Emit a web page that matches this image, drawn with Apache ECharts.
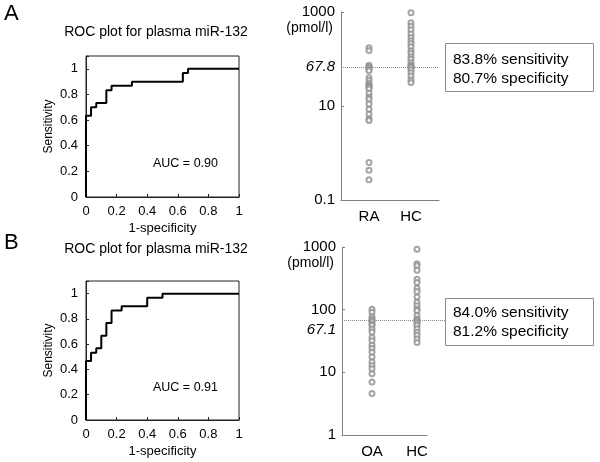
<!DOCTYPE html>
<html><head><meta charset="utf-8">
<script src="https://cdn.jsdelivr.net/npm/echarts@6/dist/echarts.min.js"></script>
<style>html,body{margin:0;padding:0;background:#fff}#c{width:600px;height:462px}</style>
</head><body><div id="c"></div>
<script>
// ROC curve A (RA vs HC)
const rocA_fpr = [0, 0, 0.033, 0.033, 0.067, 0.067, 0.133, 0.133, 0.167, 0.167, 0.3, 0.3, 0.633, 0.633, 0.667, 0.667, 1];
const rocA_tpr = [0, 0.633, 0.633, 0.7, 0.7, 0.733, 0.733, 0.833, 0.833, 0.867, 0.867, 0.9, 0.9, 0.967, 0.967, 1, 1];
// ROC curve B (OA vs HC)
const rocB_fpr = [0, 0, 0.033, 0.033, 0.067, 0.067, 0.1, 0.1, 0.133, 0.133, 0.167, 0.167, 0.233, 0.233, 0.4, 0.4, 0.5, 0.5, 1];
const rocB_tpr = [0, 0.467, 0.467, 0.533, 0.533, 0.567, 0.567, 0.667, 0.667, 0.767, 0.767, 0.867, 0.867, 0.9, 0.9, 0.967, 0.967, 1, 1];
const aucA = '0.90';
const aucB = '0.91';

// Dot plots (pmol/l)
const catsA = ['RA', 'HC'];
const catsB = ['OA', 'HC'];
const valsRA = [174, 151, 74, 68, 65, 60, 56, 40, 35, 30, 28, 26, 25, 23, 18.6, 15.3, 13.9, 11, 8.5, 6.7, 5.3, 4.9, 0.63, 0.43, 0.27];
const valsHCa = [966, 590, 500, 420, 340, 285, 245, 215, 182, 150, 133, 112, 99, 83, 74, 70, 68, 66, 59, 51, 43.5, 35.6, 31.8];
const valsOA = [102, 91, 77, 71, 67, 65, 59, 56, 49, 44, 36, 32, 27, 24, 21, 17.5, 14.6, 12.9, 11.4, 9.5, 7.0, 4.6];
const valsHCb = [920, 540, 500, 425, 306, 272, 220, 195, 160, 131, 116, 102, 96, 81, 71, 67, 65, 60, 56, 49.6, 43.8, 39, 34, 30];
const cutA = 67.8;
const cutB = 67.1;
const statsA = ['83.8% sensitivity', '80.7% specificity'];
const statsB = ['84.0% sensitivity', '81.2% specificity'];
const ticksA = [0.1, 10, 1000];
const ticksB = [1, 10, 100, 1000];

// layout (not data)
const posA = [28, 70];
const posB = [30, 75];
const FONT = 'Liberation Sans, Arial, sans-serif';

function zip(a, b) { return a.map((v, i) => [v, b[i]]); }
function fmtNum(v) { return v >= 1 ? String(Math.round(v)) : String(+(+v).toPrecision(3)); }

function rocX(grid) {
  return {
    gridIndex: grid, type: 'value', min: 0, max: 1, interval: 0.2,
    axisLine: { show: true, lineStyle: { color: '#222', width: 1 } },
    axisTick: { show: true, inside: true, length: 3, lineStyle: { color: '#222' } },
    axisLabel: { margin: 8, fontSize: 13, color: '#000', fontFamily: FONT },
    splitLine: { show: false },
    name: '1-specificity', nameLocation: 'middle', nameGap: 25,
    nameTextStyle: { fontSize: 13, color: '#000', fontFamily: FONT }
  };
}
function rocY(grid) {
  return {
    gridIndex: grid, type: 'value', min: 0, max: 1.1, interval: 0.2,
    axisLine: { show: true, lineStyle: { color: '#222', width: 1 } },
    axisTick: { show: true, inside: true, length: 3, lineStyle: { color: '#222' } },
    axisLabel: { margin: 8, fontSize: 13, color: '#000', fontFamily: FONT,
      formatter: v => (v > 1.01 ? '' : String(+v.toFixed(1))) },
    splitLine: { show: false },
    name: 'Sensitivity', nameLocation: 'middle', nameGap: 31,
    nameTextStyle: { fontSize: 12, color: '#000', fontFamily: FONT }
  };
}
function dotX(grid, max, interval, pos, cats) {
  return {
    gridIndex: grid, type: 'value', min: 0, max: max, interval: interval,
    axisLine: { show: true, onZero: false, lineStyle: { color: '#808080', width: 1 } },
    axisTick: { show: false },
    axisLabel: { margin: 9, fontSize: 15, color: '#000', fontFamily: FONT,
      formatter: v => { const i = pos.indexOf(Math.round(v)); return i >= 0 && Math.abs(v - pos[i]) < 1e-6 ? cats[i] : ''; } },
    splitLine: { show: false }
  };
}
function dotY(grid, min, ticks) {
  return {
    gridIndex: grid, type: 'log', logBase: 10, min: min, max: 1000,
    axisLine: { show: true, lineStyle: { color: '#808080', width: 1 } },
    axisTick: { show: true, inside: true, length: 3, customValues: ticks, lineStyle: { color: '#808080' } },
    axisLabel: { margin: 6, fontSize: 15, color: '#000', fontFamily: FONT, customValues: ticks,
      formatter: v => fmtNum(v) },
    splitLine: { show: false },
    minorTick: { show: false },
    name: '(pmol/l)', nameLocation: 'end', nameGap: -16,
    nameTextStyle: { fontSize: 14, color: '#000', fontFamily: FONT, align: 'right', verticalAlign: 'middle', padding: [0, 8, 0, 0] }
  };
}
function dots(xi, vals, pos) {
  return {
    type: 'scatter', xAxisIndex: xi, yAxisIndex: xi,
    data: vals.map(v => [pos, v]),
    symbol: 'emptyCircle', symbolSize: 5,
    itemStyle: { color: '#8e8e8e', borderWidth: 0.9 },
    silent: true
  };
}
function cutLine(cut, xEnd, dy, showLine) {
  return {
    symbol: 'none', silent: true, animation: false,
    lineStyle: { type: 'dotted', color: showLine ? '#8c8c8c' : 'rgba(0,0,0,0)', width: 1 },
    label: { show: true, position: 'start', distance: 6, formatter: String(cut),
      fontStyle: 'italic', fontSize: 15, color: '#000', fontFamily: FONT, offset: [0, dy] },
    data: [[{ coord: [0, cut] }, { coord: [xEnd, cut] }]]
  };
}

const chart = echarts.init(document.getElementById('c'), null, { renderer: 'canvas' });
const sA = dots(1, valsHCa, posA[1]); sA.markLine = cutLine(cutA, 97, 0, true);
const sB = dots(3, valsHCb, posB[1]); sB.markLine = cutLine(cutB, 85, 9, false);

function txt(x, y, text, size, align, extra) {
  return { type: 'text', x: x, y: y, silent: true,
    style: Object.assign({ text: text, font: size + 'px ' + FONT, fill: '#000', align: align || 'left', verticalAlign: 'middle' }, extra || {}) };
}
function box(x, y, w, h) {
  return { type: 'rect', shape: { x: x, y: y, width: w, height: h }, silent: true,
    style: { fill: 'none', stroke: '#8c8c8c', lineWidth: 1 } };
}

chart.setOption({
  animation: false,
  backgroundColor: '#fff',
  textStyle: { fontFamily: FONT },
  grid: [
    { left: 86, top: 56, width: 153, height: 141, show: true, borderColor: '#222', borderWidth: 1, backgroundColor: 'transparent' },
    { left: 341, top: 12, width: 98, height: 188 },
    { left: 86, top: 281, width: 153, height: 139, show: true, borderColor: '#222', borderWidth: 1, backgroundColor: 'transparent' },
    { left: 342, top: 247, width: 85, height: 188 },
    { left: 342, top: 247, width: 104, height: 188 }
  ],
  xAxis: [rocX(0), dotX(1, 98, 14, posA, catsA), rocX(2), dotX(3, 85, 15, posB, catsB),
    { gridIndex: 4, type: 'value', min: 0, max: 104, show: false }],
  yAxis: [rocY(0), dotY(1, 0.1, ticksA), rocY(2), dotY(3, 1, ticksB),
    { gridIndex: 4, type: 'log', logBase: 10, min: 1, max: 1000, show: false }],
  series: [
    { type: 'line', xAxisIndex: 0, yAxisIndex: 0, data: zip(rocA_fpr, rocA_tpr), showSymbol: false, symbol: 'none',
      lineStyle: { color: '#000', width: 2 }, silent: true },
    dots(1, valsRA, posA[0]), sA,
    { type: 'line', xAxisIndex: 2, yAxisIndex: 2, data: zip(rocB_fpr, rocB_tpr), showSymbol: false, symbol: 'none',
      lineStyle: { color: '#000', width: 2 }, silent: true },
    { type: 'line', xAxisIndex: 4, yAxisIndex: 4, data: [[0, cutB], [104, cutB]], showSymbol: false, symbol: 'none',
      lineStyle: { type: 'dotted', color: '#8c8c8c', width: 1 }, silent: true, z: 1 },
    dots(3, valsOA, posB[0]), sB
  ],
  graphic: [
    txt(4, 14, 'A', 22),
    txt(4, 243, 'B', 22),
    txt(156, 32, 'ROC plot for plasma miR-132', 14, 'center'),
    txt(156, 249, 'ROC plot for plasma miR-132', 14, 'center'),
    txt(153, 164, 'AUC = ' + aucA, 12.5),
    txt(153, 388, 'AUC = ' + aucB, 12.5),
    box(445.5, 43.5, 148, 48),
    box(445.5, 298.5, 148, 47),
    txt(453, 60, statsA[0], 15.5),
    txt(453, 79, statsA[1], 15.5),
    txt(453, 313, statsB[0], 15.5),
    txt(453, 332, statsB[1], 15.5)
  ]
});
</script>
</body></html>
